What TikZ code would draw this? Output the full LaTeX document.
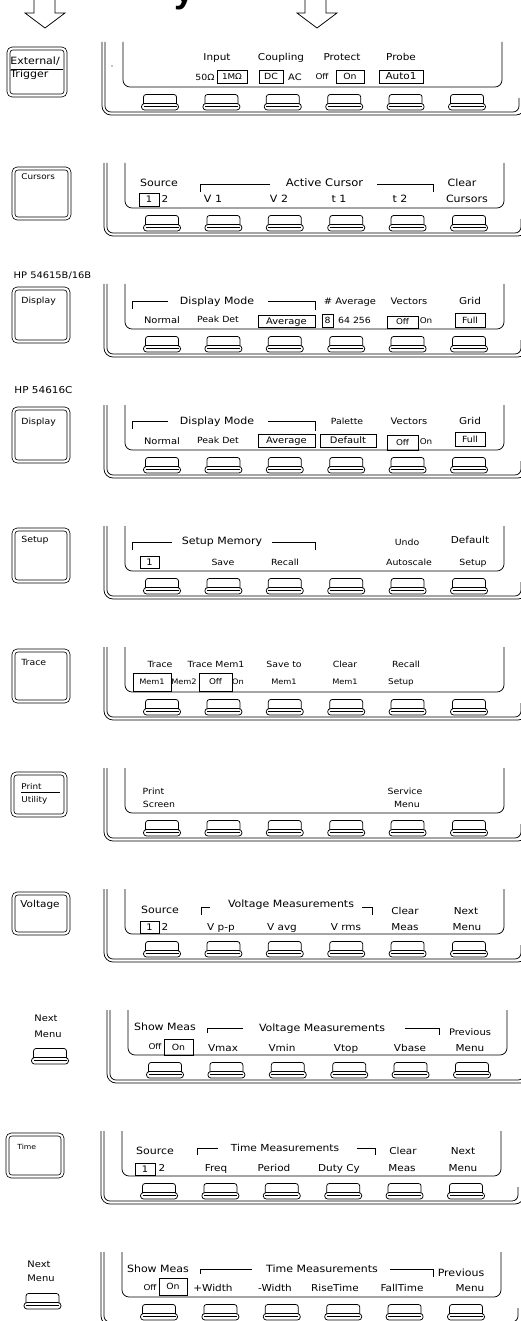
\documentclass[tikz,border=0pt]{standalone}
\usepackage{fontspec}
\newfontfamily\hp[FakeStretch=1.1]{DejaVu Sans}
\newfontfamily\lsans{Liberation Sans}
\tikzset{
  tx/.style={anchor=base,inner sep=0pt,font=\hp\fontsize{#1}{#1}\selectfont,yshift={-0.365*#1}},
  kl/.style={anchor=base west,inner sep=0pt,font=\hp\fontsize{#1}{#1}\selectfont},
  bxx/.style={draw,inner sep=0pt},
  keyst/.style={draw,double,double distance=2.2pt,rounded corners=4pt,inner sep=0pt},
  softkey/.pic={
    \draw[rounded corners=2.5pt] (-16.5,10) -- (-16.5,0.5) -- (16.5,0.5) -- (16.5,10);
    \draw[rounded corners=3pt] (-18.5,9.5) rectangle (18.5,16);
    \draw (-16.5,12.8) -- (16.5,12.8);
  }
}
\newcommand\hpanel[2]{%
  \begin{scope}[shift={(#1,#2)}]
    \draw[rounded corners=9pt] (104,42) -- (104,115) -- (527,115) -- (527,95);
    \draw[rounded corners=6pt] (107,42) -- (107,112) -- (521,112) -- (521,98);
    \draw[rounded corners=7pt] (125,42) -- (125,87) -- (504,87) -- (504,42);
    \foreach \i in {0,...,5} {\pic at ({162+61.4*\i},94) {softkey};}
  \end{scope}}
\newcommand\bxt[7]{%
  \node[bxx,minimum width=#4pt,minimum height=#5pt] (#1) at (#2,#3) {};
  \node[tx=#6] (#1t) at (#1) {#7};}
\begin{document}
\begin{tikzpicture}[x=1pt,y=-1pt,line width=0.75pt]
\fill[white] (0,0) rectangle (521,1321);
\useasboundingbox (0,0) rectangle (521,1321);
% title fragment and arrows
\node[anchor=south west,inner sep=0pt,font=\lsans\bfseries\fontsize{36}{36}\selectfont] (ttl) at (174,10) {y};
\draw (34,-3) -- (34,13) -- (25,13) -- (45,28) -- (65,13) -- (55,13) -- (55,-3);
\draw (305,-3) -- (305,13) -- (297,13) -- (317,28) -- (337,13) -- (326,13) -- (326,-3);
% panels
\hpanel{-2}{0}
\hpanel{0}{121}
\hpanel{0}{242}
\hpanel{0}{363}
\hpanel{0}{484}
\hpanel{0}{605}
\hpanel{0}{726}
\hpanel{0}{847}
\hpanel{3}{968}
\hpanel{-3}{1089}
\hpanel{-3}{1210}
% ---------- P1 External/Trigger
\node[keyst,minimum width=57pt,minimum height=47pt] (k1) at (37,72) {};
\node[kl=10] (k1a) at (10,65) {External/};
\draw (11,69) -- (63,69);
\node[kl=10] (k1b) at (10,78) {Trigger};
\fill (112,66) circle (0.6);
\node[tx=9.5] (p1a) at (217,57) {Input};
\node[tx=9.5] (p1b) at (281,57) {Coupling};
\node[tx=9.5] (p1c) at (342,57) {Protect};
\node[tx=9.5] (p1d) at (401,57) {Probe};
\node[tx=8.5] (p1e) at (205,77) {50Ω};
\bxt{p1f}{232}{76.5}{30}{13}{8}{1MΩ}
\bxt{p1g}{271}{76.5}{24}{13}{8.5}{DC}
\node[tx=9] (p1h) at (295,77) {AC};
\node[tx=8] (p1i) at (322,77) {Off};
\bxt{p1j}{350}{76.5}{28}{13}{8.5}{On}
\bxt{p1k}{401}{76.5}{44}{13}{9.5}{Auto1}
% ---------- P2 Cursors
\node[keyst,minimum width=56pt,minimum height=50pt] (k2) at (41.5,193.5) {};
\node[kl=8] (k2a) at (21,180) {Cursors};
\node[tx=10] (p2a) at (159,183) {Source};
\draw (200,192) |- (270,184);
\node[tx=10.5] (p2b) at (324.5,183) {Active Cursor};
\draw (377,184) -| (433,192);
\node[tx=10] (p2c) at (462,183) {Clear};
\bxt{p2d}{149}{199.5}{20}{13}{9}{1}
\node[tx=9.5] (p2e) at (165,199) {2};
\node[tx=10] (p2f) at (213,199) {V 1};
\node[tx=10] (p2g) at (279,199) {V 2};
\node[tx=10] (p2h) at (339,199) {t 1};
\node[tx=10] (p2i) at (400,199) {t 2};
\node[tx=10] (p2j) at (467,199) {Cursors};
% ---------- P3 Display 54615B/16B
\node[tx=9] (p3m) at (52.5,275) {HP 54615B/16B};
\node[keyst,minimum width=55pt,minimum height=53pt] (k3) at (41,315) {};
\node[kl=8.5] (k3a) at (21,304) {Display};
\draw (132,309) |- (168,301);
\node[tx=10] (p3a) at (217,301) {Display Mode};
\draw (268,301) -| (315,310);
\node[tx=9] (p3b) at (350,301) {\# Average};
\node[tx=9] (p3c) at (409,301) {Vectors};
\node[tx=9.5] (p3d) at (470,301) {Grid};
\node[tx=9] (p3e) at (162,320) {Normal};
\node[tx=8.5] (p3f) at (218,319) {Peak Det};
\bxt{p3g}{286.5}{321}{57}{12}{9}{Average}
\bxt{p3h}{327.5}{320.5}{11}{13}{8.5}{8}
\node[tx=8.5] (p3i) at (354.5,320) {64 256};
\bxt{p3j}{402.5}{322}{31}{12}{8}{Off}
\node[tx=8] (p3k) at (426,321) {On};
\bxt{p3l}{470}{320}{30}{14}{8.5}{Full}
% ---------- P4 Display 54616C
\node[tx=9.5] (p4m) at (43.5,390) {HP 54616C};
\node[keyst,minimum width=55pt,minimum height=53pt] (k4) at (41,435) {};
\node[kl=8.5] (k4a) at (21,424) {Display};
\draw (132,429) |- (168,421);
\node[tx=10] (p4a) at (217,421) {Display Mode};
\draw (268,421) -| (315,431);
\node[tx=8.5] (p4b) at (347,421) {Palette};
\node[tx=9] (p4c) at (409,421) {Vectors};
\node[tx=9.5] (p4d) at (470,421) {Grid};
\node[tx=9] (p4e) at (162,441) {Normal};
\node[tx=8.5] (p4f) at (218,440) {Peak Det};
\bxt{p4g}{286.5}{440.5}{57}{13}{9}{Average}
\bxt{p4h}{348}{440.5}{56}{13}{9}{Default}
\bxt{p4j}{402.5}{442.5}{31}{15}{8}{Off}
\node[tx=8] (p4k) at (426,442) {On};
\bxt{p4l}{470}{439}{30}{14}{8.5}{Full}
% ---------- P5 Setup
\node[keyst,minimum width=55pt,minimum height=52pt] (k5) at (41,555.5) {};
\node[kl=8.5] (k5a) at (21,542) {Setup};
\draw (132,550) |- (172,542);
\node[tx=10] (p5a) at (222,541) {Setup Memory};
\draw (272,542) -| (315,550);
\node[tx=8.5] (p5b) at (407,542) {Undo};
\node[tx=9.5] (p5c) at (470,540) {Default};
\bxt{p5d}{149.5}{562.5}{19}{12}{9}{1}
\node[tx=8.5] (p5e) at (223,562) {Save};
\node[tx=8.5] (p5f) at (285,562) {Recall};
\node[tx=8.5] (p5g) at (409,562) {Autoscale};
\node[tx=8.5] (p5h) at (473,562) {Setup};
% ---------- P6 Trace
\node[keyst,minimum width=55pt,minimum height=51pt] (k6) at (41,676) {};
\node[kl=8.5] (k6a) at (21,665) {Trace};
\node[tx=8.5] (p6a) at (160,664) {Trace};
\node[tx=8.5] (p6b) at (216,664) {Trace Mem1};
\node[tx=8.5] (p6c) at (284,664) {Save to};
\node[tx=8.5] (p6d) at (345,664) {Clear};
\node[tx=8.5] (p6e) at (406,664) {Recall};
\bxt{p6f}{152}{682}{38}{18}{7.5}{Mem1}
\node[tx=7.5] (p6g) at (184,682) {Mem2};
\bxt{p6h}{215.5}{682}{33}{18}{8}{Off}
\node[tx=7.5] (p6i) at (238,682) {On};
\node[tx=7.5] (p6j) at (284,682) {Mem1};
\node[tx=7.5] (p6k) at (345,682) {Mem1};
\node[tx=8] (p6l) at (401,682) {Setup};
% ---------- P7 Print/Utility
\node[keyst,minimum width=53pt,minimum height=42pt] (k7) at (39,794.5) {};
\node[kl=8] (k7a) at (21,789) {Print};
\draw (21,792) -- (60,792);
\node[kl=8] (k7b) at (21,802) {Utility};
\node[tx=8.5] (p7a) at (153.5,791) {Print};
\node[tx=8.5] (p7b) at (159,804) {Screen};
\node[tx=8.5] (p7c) at (405,791) {Service};
\node[tx=8.5] (p7d) at (407,804) {Menu};
% ---------- P8 Voltage
\node[keyst,minimum width=55pt,minimum height=40pt] (k8) at (41,913.5) {};
\node[kl=9.5] (k8a) at (20,907) {Voltage};
\node[tx=10] (p8a) at (160,910) {Source};
\draw (201,915) |- (210,907);
\node[tx=10] (p8b) at (291,904) {Voltage Measurements};
\draw (362,907) -| (372,915);
\node[tx=9.5] (p8c) at (405,911) {Clear};
\node[tx=9.5] (p8d) at (466,911) {Next};
\bxt{p8e}{149.5}{927.5}{19}{12}{9}{1}
\node[tx=9.5] (p8f) at (165,927) {2};
\node[tx=9.5] (p8g) at (221,927) {V p-p};
\node[tx=9.5] (p8h) at (282,927) {V avg};
\node[tx=9.5] (p8i) at (346,927) {V rms};
\node[tx=9.5] (p8j) at (405,927) {Meas};
\node[tx=9.5] (p8k) at (467,927) {Menu};
% ---------- P9 Next Menu (voltage)
\node[tx=9] (k9a) at (46,1018) {Next};
\node[tx=9] (k9b) at (48,1034) {Menu};
\pic at (50,1048) {softkey};
\node[tx=10] (p9a) at (165,1027) {Show Meas};
\draw (207,1033) |- (243,1028);
\node[tx=10] (p9b) at (322,1028) {Voltage Measurements};
\draw (405,1028) -| (439,1035);
\node[tx=9] (p9c) at (470,1032) {Previous};
\node[tx=8] (p9d) at (155,1047) {Off};
\bxt{p9e}{178.5}{1047}{29}{16}{8.5}{On}
\node[tx=9.5] (p9f) at (223,1048) {Vmax};
\node[tx=9.5] (p9g) at (282,1048) {Vmin};
\node[tx=9.5] (p9h) at (346,1048) {Vtop};
\node[tx=9.5] (p9i) at (410,1048) {Vbase};
\node[tx=9.5] (p9j) at (470,1048) {Menu};
% ---------- P10 Time
\node[keyst,minimum width=55pt,minimum height=42pt] (k10) at (35,1155.5) {};
\node[kl=7] (k10a) at (17,1149) {Time};
\node[tx=10] (p10a) at (155,1151) {Source};
\draw (197,1155) |- (218,1148);
\node[tx=9.7] (p10b) at (285,1148) {Time Measurements};
\draw (357,1148) -| (375,1155);
\node[tx=9.5] (p10c) at (403,1151) {Clear};
\node[tx=9.5] (p10d) at (463,1151) {Next};
\bxt{p10e}{145}{1169}{20}{12}{9}{1}
\node[tx=9.5] (p10f) at (162,1168) {2};
\node[tx=9.5] (p10g) at (216,1168) {Freq};
\node[tx=9.5] (p10h) at (274,1168) {Period};
\node[tx=9.5] (p10i) at (339,1168) {Duty Cy};
\node[tx=9.5] (p10j) at (402,1168) {Meas};
\node[tx=9.5] (p10k) at (463,1168) {Menu};
% ---------- P11 Next Menu (time)
\node[tx=9] (k11a) at (39,1264) {Next};
\node[tx=9] (k11b) at (41,1278) {Menu};
\pic at (42.5,1293) {softkey};
\node[tx=10] (p11a) at (158,1269) {Show Meas};
\draw (200,1274) |- (252,1269);
\node[tx=10] (p11b) at (322,1269) {Time Measurements};
\draw (390,1269) -| (433,1277);
\node[tx=10] (p11c) at (461,1273) {Previous};
\node[tx=8] (p11d) at (150,1288) {Off};
\bxt{p11e}{173}{1286.5}{28}{17}{8.5}{On}
\node[tx=9.5] (p11f) at (213,1288) {+Width};
\node[tx=9.5] (p11g) at (275,1288) {-Width};
\node[tx=9.5] (p11h) at (335,1288) {RiseTime};
\node[tx=9.5] (p11i) at (402,1288) {FallTime};
\node[tx=9.5] (p11j) at (470,1288) {Menu};
\end{tikzpicture}
\end{document}
